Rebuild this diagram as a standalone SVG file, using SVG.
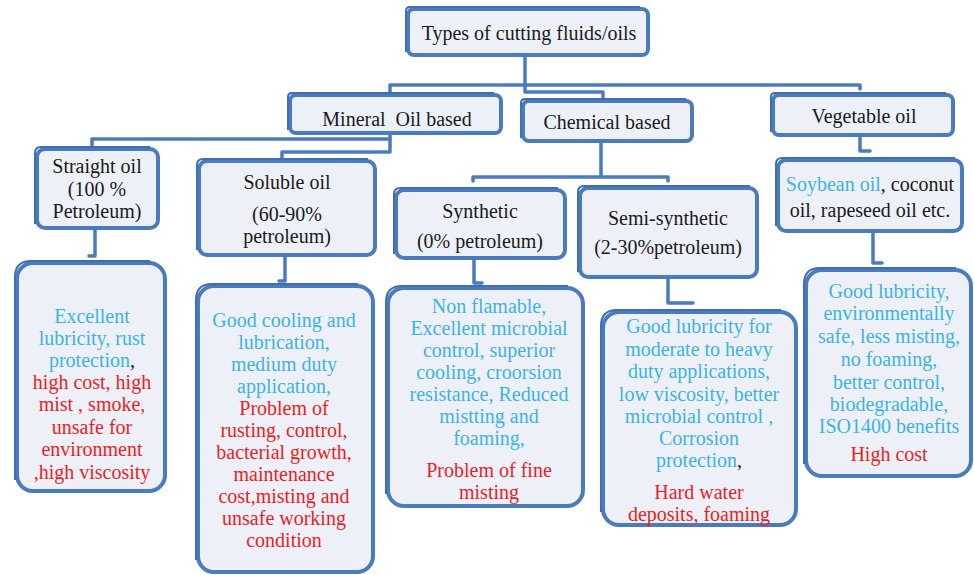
<svg xmlns="http://www.w3.org/2000/svg" width="974" height="575" viewBox="0 0 974 575">
<style>
.bg{fill:#ffffff}
.b{fill:#edf1f7;stroke:#4a7bbd;stroke-width:4}
.s{fill:none;stroke:#3f6fb0;stroke-width:2}
.c{fill:none;stroke:#4a7bbd;stroke-width:3.5;stroke-linejoin:round;stroke-linecap:round}
.cy{fill:#3cb3e6}
.rd{fill:#ee1c25}
</style>
<rect class="bg" x="0" y="0" width="974" height="575"/>
<g id="connectors">
<path class="c" d="M525,55 V92 H603 V97"/>
<path class="c" d="M390,92 V85 H860 V89"/>
<path class="c" d="M390,133 V152 H282 V158"/>
<path class="c" d="M390,139 H92 V146"/>
<path class="c" d="M601,141 V177 M473,181 V177 H668 V181"/>
<path class="c" d="M860,133 V151 H870"/>
<path class="c" d="M95,228 V256 H89"/>
<path class="c" d="M285,255 V281 H279"/>
<path class="c" d="M474,258 V283 H482"/>
<path class="c" d="M668,277 V303 H693"/>
<path class="c" d="M873,231 V263 H882"/>
</g>
<g font-family="Liberation Serif, Tinos, Times New Roman, serif" font-size="20" text-anchor="middle" fill="#1a1a1a">
<g id="title">
<rect class="b" x="408" y="9" width="240" height="46" rx="6"/>
<path class="s" d="M406,52 V11 Q406,7 410,7 H640"/>
<text x="529" y="40">Types of cutting fluids/oils</text>
</g>
<g id="mineral">
<rect class="b" x="290" y="95" width="211" height="38" rx="6"/>
<path class="s" d="M288,130 V97 Q288,93 292,93 H494"/>
<text x="397" y="126" xml:space="preserve">Mineral  Oil based</text>
</g>
<g id="chemical">
<rect class="b" x="523" y="101" width="169" height="40" rx="6"/>
<path class="s" d="M521,138 V103 Q521,99 525,99 H686"/>
<text x="607" y="129">Chemical based</text>
</g>
<g id="vegetable">
<rect class="b" x="773" y="95" width="180" height="40" rx="6"/>
<path class="s" d="M771,132 V97 Q771,93 775,93 H946"/>
<text x="864" y="123">Vegetable oil</text>
</g>
<g id="straight">
<rect class="b" x="37" y="149" width="121" height="79" rx="8"/>
<path class="s" d="M35,224 V153 Q35,147 41,147 H150"/>
<text x="97" y="173">Straight oil</text>
<text x="97" y="196">(100 %</text>
<text x="97" y="218">Petroleum)</text>
</g>
<g id="soluble">
<rect class="b" x="199" y="161" width="176" height="94" rx="8"/>
<path class="s" d="M197,250 V165 Q197,159 203,159 H368"/>
<text x="287" y="189">Soluble oil</text>
<text x="287" y="221">(60-90%</text>
<text x="287" y="243">petroleum)</text>
</g>
<g id="synthetic">
<rect class="b" x="396" y="190" width="169" height="68" rx="8"/>
<path class="s" d="M394,254 V194 Q394,188 400,188 H558"/>
<text x="480" y="218">Synthetic</text>
<text x="480" y="248">(0% petroleum)</text>
</g>
<g id="semisynthetic">
<rect class="b" x="580" y="188" width="177" height="89" rx="8"/>
<path class="s" d="M578,272 V192 Q578,186 584,186 H750"/>
<text x="668" y="225">Semi-synthetic</text>
<text x="668" y="254">(2-30%petroleum)</text>
</g>
<g id="soybean">
<rect class="b" x="778" y="160" width="184" height="71" rx="8"/>
<path class="s" d="M776,226 V164 Q776,158 782,158 H955"/>
<text x="870" y="191"><tspan class="cy">Soybean oil</tspan>, coconut</text>
<text x="870" y="217">oil, rapeseed oil etc.</text>
</g>
<g id="straight-detail">
<rect class="b" x="17" y="263" width="148" height="228" rx="16"/>
<path class="s" d="M15,480 V277 Q15,261 31,261 H150"/>
<text x="92" y="323" class="cy">Excellent</text>
<text x="92" y="345" class="cy">lubricity, rust</text>
<text x="92" y="367"><tspan class="cy">protection</tspan>,</text>
<text x="92" y="389" class="rd">high cost, high</text>
<text x="92" y="411" class="rd">mist , smoke,</text>
<text x="92" y="434" class="rd">unsafe for</text>
<text x="92" y="456" class="rd">environment</text>
<text x="92" y="479" class="rd">,high viscosity</text>
</g>
<g id="soluble-detail">
<rect class="b" x="198" y="286" width="175" height="286" rx="16"/>
<path class="s" d="M196,560 V300 Q196,284 212,284 H358"/>
<text x="284" y="327" class="cy">Good cooling and</text>
<text x="284" y="349" class="cy">lubrication,</text>
<text x="284" y="371" class="cy">medium duty</text>
<text x="284" y="393" class="cy">application,</text>
<text x="284" y="415" class="rd">Problem of</text>
<text x="284" y="437" class="rd">rusting, control,</text>
<text x="284" y="459" class="rd">bacterial growth,</text>
<text x="284" y="481" class="rd">maintenance</text>
<text x="284" y="503" class="rd">cost,misting and</text>
<text x="284" y="525" class="rd">unsafe working</text>
<text x="284" y="547" class="rd">condition</text>
</g>
<g id="synthetic-detail">
<rect class="b" x="388" y="288" width="195" height="218" rx="16"/>
<path class="s" d="M386,494 V302 Q386,286 402,286 H568"/>
<text x="489" y="313" class="cy">Non flamable,</text>
<text x="489" y="335" class="cy">Excellent microbial</text>
<text x="489" y="357" class="cy">control, superior</text>
<text x="489" y="379" class="cy">cooling, croorsion</text>
<text x="489" y="401" class="cy">resistance, Reduced</text>
<text x="489" y="423" class="cy">mistting and</text>
<text x="489" y="445" class="cy">foaming,</text>
<text x="489" y="477" class="rd">Problem of fine</text>
<text x="489" y="499" class="rd">misting</text>
</g>
<g id="semisynthetic-detail">
<rect class="b" x="603" y="312" width="193" height="213" rx="16"/>
<path class="s" d="M601,512 V326 Q601,310 617,310 H781"/>
<text x="699" y="333" class="cy">Good lubricity for</text>
<text x="699" y="356" class="cy">moderate to heavy</text>
<text x="699" y="378" class="cy">duty applications,</text>
<text x="699" y="401" class="cy">low viscosity, better</text>
<text x="699" y="423" class="cy">microbial control ,</text>
<text x="699" y="445" class="cy">Corrosion</text>
<text x="699" y="467"><tspan class="cy">protection</tspan>,</text>
<text x="699" y="499" class="rd">Hard water</text>
<text x="699" y="521" class="rd">deposits, foaming</text>
</g>
<g id="vegetable-detail">
<rect class="b" x="806" y="270" width="165" height="206" rx="16"/>
<path class="s" d="M804,464 V284 Q804,268 820,268 H956"/>
<text x="889" y="298" class="cy">Good lubricity,</text>
<text x="889" y="320" class="cy">environmentally</text>
<text x="889" y="343" class="cy">safe, less misting,</text>
<text x="889" y="366" class="cy">no foaming,</text>
<text x="889" y="389" class="cy">better control,</text>
<text x="889" y="411" class="cy">biodegradable,</text>
<text x="889" y="433" class="cy">ISO1400 benefits</text>
<text x="889" y="461" class="rd">High cost</text>
</g>
</g>
</svg>
